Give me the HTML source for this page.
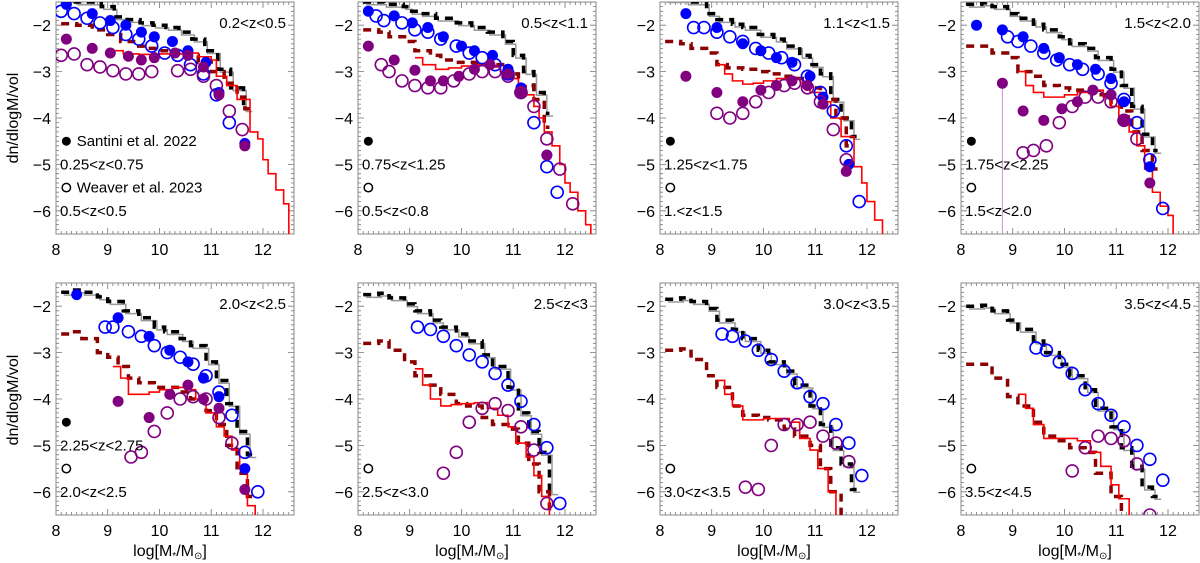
<!DOCTYPE html>
<html><head><meta charset="utf-8">
<style>
body{margin:0;background:#fff;}
svg{display:block;font-family:"Liberation Sans",sans-serif;}
</style></head>
<body>
<svg id="chart" width="1200" height="563" viewBox="0 0 1200 563" xmlns="http://www.w3.org/2000/svg">
<text x="18" y="118" transform="rotate(-90 18 118)" text-anchor="middle" font-size="16">dn/dlogM/vol</text>
<text x="18" y="400" transform="rotate(-90 18 400)" text-anchor="middle" font-size="16">dn/dlogM/vol</text>
</svg>
<script>
const xTicks = [8, 9, 10, 11, 12];
const yTicks = [-2, -3, -4, -5, -6];
const zLabels = ["0.2<z<0.5","0.5<z<1.1","1.1<z<1.5","1.5<z<2.0","2.0<z<2.5","2.5<z<3","3.0<z<3.5","3.5<z<4.5"];
const santiniLabels = ["0.25<z<0.75","0.75<z<1.25","1.25<z<1.75","1.75<z<2.25","2.25<z<2.75",null,null,null];
const weaverLabels = ["0.5<z<0.5","0.5<z<0.8","1.<z<1.5","1.5<z<2.0","2.0<z<2.5","2.5<z<3.0","3.0<z<3.5","3.5<z<4.5"];

const p1_black=[[8.1,-1.45],[8.375,-1.5],[8.625,-1.5],[8.875,-1.6],[9.125,-1.82],[9.375,-1.88],[9.625,-1.95],[9.875,-2.0],[10.125,-2.05],[10.375,-2.15],[10.625,-2.3],[10.875,-2.55],[11.125,-2.95],[11.375,-3.35],[11.625,-3.8]];
const p1_dark=[[8.1,-1.97],[8.4,-2.0],[8.7,-2.1],[9.0,-2.2],[9.25,-2.35],[9.5,-2.45],[9.75,-2.5],[10.0,-2.55],[10.25,-2.6],[10.5,-2.65],[10.75,-2.8],[11.0,-3.0],[11.25,-3.25],[11.5,-3.55],[11.65,-3.8]];
const p1_red=[[9.1,-2.55],[9.3,-2.62],[9.6,-2.63],[10.0,-2.62],[10.5,-2.6],[10.75,-2.68],[11.0,-2.75],[11.1,-3.1],[11.3,-3.3],[11.5,-3.6],[11.75,-4.3],[11.9,-4.45],[12.0,-4.9],[12.1,-5.2],[12.25,-5.55],[12.4,-5.85],[12.5,-6.6]];
const p1_blueF=[[8.2,-1.55],[8.7,-1.75],[9.05,-1.9],[9.35,-2.0],[9.65,-2.15],[9.9,-2.25],[10.25,-2.35],[10.55,-2.55],[10.9,-2.8],[11.15,-3.45],[11.65,-4.55]];
const p1_blueO=[[8.1,-1.7],[8.35,-1.75],[8.6,-1.85],[8.85,-1.95],[9.1,-2.05],[9.35,-2.2],[9.6,-2.3],[9.85,-2.45],[10.1,-2.6],[10.35,-2.65],[10.6,-2.85],[10.85,-3.05],[11.1,-3.5],[11.35,-4.1]];
const p1_purF=[[8.2,-2.3],[8.7,-2.5],[9.05,-2.6],[9.4,-2.67],[9.65,-2.75],[9.9,-2.7],[10.3,-2.6],[10.55,-2.65],[10.85,-2.9],[11.15,-3.5],[11.65,-4.6]];
const p1_purO=[[8.1,-2.65],[8.35,-2.62],[8.6,-2.85],[8.85,-2.9],[9.1,-2.98],[9.35,-3.05],[9.6,-3.05],[9.85,-3.0],[10.35,-2.98],[10.6,-2.95],[10.85,-3.1],[11.1,-3.3],[11.35,-3.85],[11.6,-4.25]];

const p2_black=[[8.1,-1.5],[8.5,-1.55],[8.875,-1.6],[9.0,-1.7],[9.2,-1.75],[9.5,-1.85],[9.9,-1.95],[10.2,-2.05],[10.5,-2.15],[10.8,-2.35],[11.0,-2.65],[11.2,-3.0],[11.4,-3.45],[11.6,-3.9]];
const p2_dark=[[8.1,-2.1],[8.4,-2.15],[8.6,-2.25],[8.9,-2.35],[9.1,-2.55],[9.4,-2.65],[9.6,-2.75],[9.9,-2.8],[10.1,-2.8],[10.4,-2.85],[10.6,-2.85],[10.9,-3.05],[11.1,-3.3],[11.4,-3.6],[11.6,-4.2]];
const p2_red=[[9.1,-2.7],[9.25,-2.85],[9.5,-2.95],[9.75,-2.92],[10.0,-2.88],[10.25,-2.85],[10.5,-2.9],[10.75,-3.0],[11.0,-3.15],[11.1,-3.3],[11.25,-3.5],[11.4,-3.75],[11.5,-4.0],[11.6,-4.3],[11.75,-4.6],[11.9,-5.0],[12.0,-5.4],[12.1,-5.6],[12.25,-6.0],[12.4,-6.3],[12.5,-6.6]];
const p2_blueF=[[8.2,-1.7],[8.7,-1.8],[9.05,-1.95],[9.35,-2.05],[9.65,-2.25],[10.0,-2.45],[10.25,-2.55],[10.6,-2.65],[10.9,-2.95],[11.15,-3.35],[11.65,-4.8]];
const p2_blueO=[[8.35,-1.8],[8.5,-1.9],[8.85,-1.95],[9.1,-2.1],[9.35,-2.15],[9.6,-2.3],[9.9,-2.45],[10.15,-2.6],[10.4,-2.7],[10.65,-2.85],[10.9,-3.05],[11.15,-3.45],[11.4,-4.1],[11.65,-5.05],[11.85,-5.6]];
const p2_purF=[[8.2,-2.45],[8.7,-2.75],[9.1,-2.97],[9.4,-3.2],[9.65,-3.2],[9.95,-3.1],[10.25,-2.95],[10.55,-2.85],[10.9,-3.05],[11.15,-3.45],[11.65,-4.8]];
const p2_purO=[[8.45,-2.85],[8.6,-3.0],[8.85,-3.2],[9.1,-3.3],[9.35,-3.35],[9.6,-3.35],[9.85,-3.2],[10.15,-3.05],[10.4,-3.0],[10.65,-3.0],[10.9,-3.1],[11.15,-3.45],[11.4,-3.75],[11.65,-4.45],[11.9,-5.1],[12.15,-5.85]];

const p3_black=[[8.1,-1.45],[8.5,-1.5],[8.9,-1.75],[9.1,-1.88],[9.4,-1.98],[9.6,-2.05],[9.9,-2.2],[10.2,-2.3],[10.4,-2.45],[10.7,-2.65],[10.9,-2.85],[11.1,-3.05],[11.3,-3.6],[11.5,-4.0],[11.7,-4.4]];
const p3_dark=[[8.1,-2.35],[8.4,-2.4],[8.6,-2.5],[8.9,-2.6],[9.1,-2.85],[9.3,-2.92],[9.6,-2.95],[9.9,-3.0],[10.1,-3.05],[10.4,-3.1],[10.6,-3.15],[10.9,-3.35],[11.1,-3.6],[11.4,-4.0],[11.6,-4.6]];
const p3_red=[[9.1,-2.85],[9.25,-3.05],[9.4,-3.2],[9.6,-3.27],[9.8,-3.25],[10.0,-3.2],[10.25,-3.15],[10.5,-3.15],[10.75,-3.25],[10.9,-3.45],[11.1,-3.65],[11.3,-4.0],[11.5,-4.4],[11.75,-5.05],[11.9,-5.4],[12.0,-5.8],[12.15,-6.2],[12.3,-6.6]];
const p3_blueF=[[8.5,-1.75],[9.1,-2.05],[9.6,-2.4],[9.95,-2.55],[10.25,-2.7],[10.55,-2.8],[10.9,-3.1],[11.15,-3.55],[11.65,-5.0]];
const p3_blueO=[[8.65,-2.05],[8.85,-2.05],[9.1,-2.15],[9.35,-2.25],[9.6,-2.35],[9.85,-2.5],[10.1,-2.6],[10.35,-2.7],[10.6,-2.85],[10.85,-3.1],[11.1,-3.45],[11.35,-3.85],[11.6,-4.6],[11.85,-5.8]];
const p3_purF=[[8.5,-3.1],[9.1,-3.45],[9.6,-3.65],[9.95,-3.4],[10.25,-3.3],[10.55,-3.2],[10.85,-3.3],[11.15,-3.7],[11.6,-5.15]];
const p3_purO=[[9.1,-3.9],[9.35,-4.0],[9.6,-3.9],[9.85,-3.65],[10.1,-3.45],[10.4,-3.3],[10.6,-3.25],[10.85,-3.35],[11.1,-3.65],[11.35,-4.25],[11.6,-4.9]];

const p4_black=[[8.1,-1.55],[8.4,-1.52],[8.6,-1.6],[8.9,-1.75],[9.1,-1.85],[9.4,-1.98],[9.6,-2.1],[9.9,-2.25],[10.1,-2.4],[10.4,-2.5],[10.6,-2.7],[10.9,-2.95],[11.1,-3.3],[11.3,-3.75],[11.5,-4.35],[11.7,-4.7]];
const p4_dark=[[8.1,-2.45],[8.4,-2.45],[8.6,-2.6],[8.9,-2.7],[9.1,-3.0],[9.4,-3.1],[9.6,-3.3],[9.9,-3.35],[10.1,-3.4],[10.4,-3.45],[10.6,-3.5],[10.9,-3.7],[11.1,-3.85],[11.3,-4.3],[11.5,-4.7],[11.7,-5.1]];
const p4_red=[[9.1,-3.0],[9.25,-3.3],[9.4,-3.45],[9.6,-3.55],[9.8,-3.55],[10.0,-3.5],[10.25,-3.45],[10.5,-3.4],[10.75,-3.55],[10.9,-3.75],[11.05,-3.95],[11.25,-4.3],[11.4,-4.6],[11.55,-5.1],[11.7,-5.6],[11.85,-5.9],[12.0,-6.1],[12.1,-6.6]];
const p4_blueF=[[8.3,-2.0],[8.8,-2.1],[9.2,-2.25],[9.6,-2.5],[9.9,-2.7],[10.25,-2.85],[10.6,-2.95],[10.9,-3.15],[11.15,-3.65],[11.65,-5.05]];
const p4_blueO=[[8.9,-2.25],[9.1,-2.35],[9.35,-2.45],[9.6,-2.6],[9.85,-2.75],[10.1,-2.85],[10.35,-2.95],[10.65,-3.05],[10.9,-3.25],[11.15,-3.6],[11.4,-4.1],[11.65,-4.9],[11.9,-5.95]];
const p4_purF=[[8.8,-3.25],[9.2,-3.85],[9.6,-4.05],[9.95,-3.8],[10.25,-3.65],[10.55,-3.4],[10.9,-3.5],[11.15,-4.05],[11.65,-5.4]];
const p4_purO=[[9.2,-4.75],[9.4,-4.7],[9.65,-4.6],[9.9,-4.1],[10.15,-3.75],[10.4,-3.55],[10.65,-3.55],[10.9,-3.65],[11.15,-4.05],[11.4,-4.45]];

const p5_black=[[8.1,-1.7],[8.3,-1.65],[8.5,-1.7],[8.8,-1.8],[9.0,-1.9],[9.3,-2.1],[9.6,-2.25],[9.9,-2.45],[10.1,-2.55],[10.4,-2.7],[10.6,-2.85],[10.9,-3.2],[11.1,-3.6],[11.3,-4.1],[11.5,-4.7],[11.7,-5.2]];
const p5_dark=[[8.1,-2.6],[8.3,-2.55],[8.5,-2.7],[8.8,-3.0],[9.0,-3.1],[9.2,-3.3],[9.4,-3.55],[9.6,-3.65],[9.9,-3.75],[10.1,-3.75],[10.4,-3.85],[10.6,-4.0],[10.9,-4.25],[11.1,-4.55],[11.3,-5.0],[11.5,-5.6],[11.7,-6.1]];
const p5_red=[[9.1,-3.3],[9.25,-3.55],[9.4,-3.9],[9.6,-3.9],[9.8,-3.85],[10.0,-3.8],[10.25,-3.75],[10.5,-3.8],[10.7,-4.0],[10.9,-4.3],[11.1,-4.6],[11.25,-4.8],[11.4,-5.1],[11.55,-5.5],[11.7,-6.3],[11.85,-6.6]];
const p5_blueF=[[8.4,-1.75],[9.2,-2.25],[9.8,-2.65],[10.2,-2.95],[10.55,-3.2],[10.85,-3.55],[11.15,-3.95],[11.65,-5.5]];
const p5_blueO=[[8.95,-2.45],[9.1,-2.45],[9.4,-2.55],[9.65,-2.65],[9.9,-2.85],[10.15,-3.0],[10.4,-3.1],[10.65,-3.25],[10.9,-3.5],[11.15,-3.85],[11.4,-4.35],[11.65,-5.15],[11.9,-6.0]];
const p5_purF=[[9.2,-4.05],[9.8,-4.4],[10.2,-3.9],[10.55,-3.7],[10.85,-4.0],[11.15,-4.2],[11.65,-5.95]];
const p5_purO=[[9.45,-5.25],[9.65,-5.15],[9.9,-4.7],[10.15,-4.3],[10.4,-4.0],[10.65,-3.95],[10.9,-4.0],[11.15,-4.4],[11.4,-4.95]];

const p6_black=[[8.1,-1.75],[8.4,-1.72],[8.6,-1.82],[8.9,-1.95],[9.1,-2.1],[9.4,-2.3],[9.6,-2.45],[9.9,-2.6],[10.1,-2.75],[10.4,-3.05],[10.6,-3.3],[10.9,-3.75],[11.1,-4.3],[11.3,-4.7],[11.5,-5.15],[11.7,-6.0]];
const p6_dark=[[8.1,-2.8],[8.4,-2.75],[8.6,-2.95],[8.9,-3.2],[9.1,-3.5],[9.4,-3.7],[9.6,-3.9],[9.9,-4.1],[10.1,-4.15],[10.4,-4.4],[10.6,-4.55],[10.9,-4.65],[11.1,-4.95],[11.3,-5.4],[11.5,-6.0],[11.7,-6.6]];
const p6_red=[[9.1,-3.35],[9.25,-3.7],[9.4,-4.0],[9.6,-4.15],[9.8,-4.12],[10.0,-4.1],[10.25,-4.08],[10.5,-4.2],[10.7,-4.35],[10.9,-4.6],[11.05,-4.95],[11.25,-5.25],[11.4,-5.65],[11.55,-6.1],[11.7,-6.6]];
const p6_blueF=[];
const p6_blueO=[[9.15,-2.45],[9.4,-2.5],[9.65,-2.65],[9.9,-2.85],[10.15,-3.05],[10.4,-3.2],[10.65,-3.45],[10.9,-3.7],[11.15,-4.05],[11.4,-4.55],[11.65,-5.05],[11.9,-6.25]];
const p6_purF=[];
const p6_purO=[[9.65,-5.6],[9.9,-5.15],[10.15,-4.5],[10.4,-4.2],[10.65,-4.1],[10.9,-4.25],[11.15,-4.6],[11.4,-5.1],[11.65,-6.25]];

const p7_black=[[8.1,-1.85],[8.4,-1.82],[8.6,-1.9],[8.9,-2.05],[9.1,-2.3],[9.4,-2.5],[9.6,-2.7],[9.9,-2.95],[10.1,-3.2],[10.4,-3.4],[10.6,-3.7],[10.9,-4.15],[11.1,-4.55],[11.3,-5.05],[11.5,-5.4],[11.7,-5.95]];
const p7_dark=[[8.1,-2.95],[8.4,-2.92],[8.6,-3.15],[8.9,-3.5],[9.1,-3.75],[9.4,-4.15],[9.6,-4.35],[9.9,-4.4],[10.1,-4.45],[10.4,-4.65],[10.6,-4.8],[10.9,-5.0],[11.1,-5.5],[11.3,-6.0],[11.5,-6.6]];
const p7_red=[[9.1,-3.6],[9.25,-3.9],[9.4,-4.15],[9.6,-4.45],[9.8,-4.45],[10.0,-4.42],[10.25,-4.42],[10.5,-4.5],[10.7,-4.85],[10.9,-5.1],[11.05,-5.5],[11.25,-6.0],[11.4,-6.6]];
const p7_blueF=[];
const p7_blueO=[[9.2,-2.6],[9.4,-2.65],[9.65,-2.75],[9.9,-2.95],[10.15,-3.15],[10.4,-3.4],[10.65,-3.65],[10.9,-3.95],[11.15,-4.1],[11.4,-4.55],[11.65,-4.95],[11.9,-5.65]];
const p7_purF=[];
const p7_purO=[[9.65,-5.9],[9.9,-5.95],[10.15,-5.0],[10.4,-4.55],[10.65,-4.55],[10.9,-4.5],[11.15,-4.8],[11.4,-4.95],[11.65,-5.35]];

const p8_black=[[8.1,-2.0],[8.4,-1.98],[8.6,-2.1],[8.9,-2.3],[9.1,-2.5],[9.4,-2.75],[9.6,-3.0],[9.9,-3.25],[10.1,-3.5],[10.4,-3.8],[10.6,-4.2],[10.9,-4.6],[11.1,-5.05],[11.3,-5.45],[11.5,-5.9],[11.7,-6.1]];
const p8_dark=[[8.1,-3.25],[8.4,-3.25],[8.6,-3.55],[8.9,-3.95],[9.1,-4.15],[9.4,-4.5],[9.6,-4.8],[9.9,-4.9],[10.1,-5.05],[10.4,-5.15],[10.6,-5.6],[10.9,-6.1],[11.1,-6.6]];
const p8_red=[[9.1,-3.9],[9.25,-4.2],[9.4,-4.55],[9.6,-4.85],[9.8,-4.85],[10.0,-4.85],[10.25,-4.9],[10.5,-5.15],[10.7,-5.45],[10.9,-5.85],[11.05,-6.15],[11.25,-6.6]];
const p8_blueF=[];
const p8_blueO=[[9.45,-2.9],[9.65,-2.95],[9.9,-3.2],[10.15,-3.45],[10.4,-3.8],[10.65,-4.1],[10.9,-4.35],[11.15,-4.6],[11.4,-5.0],[11.65,-5.3],[11.9,-5.75]];
const p8_purF=[];
const p8_purO=[[10.15,-5.55],[10.4,-5.05],[10.65,-4.8],[10.9,-4.85],[11.15,-4.9],[11.4,-5.4],[11.65,-6.5]];

const panels=[
 [p1_black,p1_dark,p1_red,p1_blueF,p1_blueO,p1_purF,p1_purO],
 [p2_black,p2_dark,p2_red,p2_blueF,p2_blueO,p2_purF,p2_purO],
 [p3_black,p3_dark,p3_red,p3_blueF,p3_blueO,p3_purF,p3_purO],
 [p4_black,p4_dark,p4_red,p4_blueF,p4_blueO,p4_purF,p4_purO],
 [p5_black,p5_dark,p5_red,p5_blueF,p5_blueO,p5_purF,p5_purO],
 [p6_black,p6_dark,p6_red,p6_blueF,p6_blueO,p6_purF,p6_purO],
 [p7_black,p7_dark,p7_red,p7_blueF,p7_blueO,p7_purF,p7_purO],
 [p8_black,p8_dark,p8_red,p8_blueF,p8_blueO,p8_purF,p8_purO]
];

const NS="http://www.w3.org/2000/svg";
const svg=document.getElementById('chart');
const lefts=[56,358,660,961], tops=[2,283], W=238, H=232;
const XMIN=8, XMAX=12.6, YMIN=-6.5, YMAX=-1.5;
function mk(tag,attrs,parent){const e=document.createElementNS(NS,tag);for(const k in attrs)e.setAttribute(k,attrs[k]);(parent||svg).appendChild(e);return e;}
function stepPath(pts,sx,sy,ext){let d='';for(let i=0;i<pts.length;i++){const x=sx(pts[i][0]),y=sy(pts[i][1]);const xn=i<pts.length-1?sx(pts[i+1][0]):sx(pts[i][0]+ext);if(i===0)d+='M'+x+','+y;else d+='V'+y;d+='H'+xn;}return d;}

panels.forEach((p,i)=>{
  const L=lefts[i%4], T=tops[Math.floor(i/4)];
  const sx=v=>L+(v-XMIN)/(XMAX-XMIN)*W;
  const sy=v=>T+(YMAX-v)/(YMAX-YMIN)*H;
  const g=mk('g',{});
  
  
  const cp=mk('clipPath',{id:'clip'+i},g);
  mk('rect',{x:L,y:T,width:W,height:H},cp);
  let d='';
  for(let v=8;v<=12.6001;v+=0.1){const x=sx(v).toFixed(1);const big=Math.abs(v-Math.round(v))<0.01;const len=big?6:3;d+=`M${x},${T+H}v${-len}M${x},${T}v${len}`;}
  for(let v=-6.5;v<=-1.4999;v+=0.1){const y=sy(v).toFixed(1);const big=Math.abs(v-Math.round(v))<0.01;const len=big?6:3;d+=`M${L},${y}h${len}M${L+W},${y}h${-len}`;}
  const tk=mk('path',{d:d,stroke:'#777','stroke-width':0.8,fill:'none'},g);
  
  
  const fr=mk('rect',{x:L,y:T,width:W,height:H,fill:'none',stroke:'#888','stroke-width':1},g);
  
  
  xTicks.forEach(v=>{const t=mk('text',{x:sx(v),y:T+H+21,'text-anchor':'middle','font-size':16},g);t.textContent=v;
    
    });
  yTicks.forEach(v=>{const t=mk('text',{x:L-5,y:sy(v)+6,'text-anchor':'end','font-size':16},g);t.textContent='\u2212'+Math.abs(v);
    
    });
  const c=mk('g',{'clip-path':`url(#clip${i})`},g);
  const gray=p[0].map(q=>[q[0]+0.05,q[1]-0.06]);
  const gl=mk('path',{d:stepPath(gray,sx,sy,0.12),stroke:'#999','stroke-width':1.5,fill:'none'},c);
  
  
  const bl=mk('path',{d:stepPath(p[0],sx,sy,0.1),stroke:'#000','stroke-width':3.5,fill:'none','stroke-dasharray':'8,6'},c);
  
  
  const dl=mk('path',{d:stepPath(p[1],sx,sy,0.1),stroke:'#8b0000','stroke-width':3.5,fill:'none','stroke-dasharray':'8,6'},c);
  
  
  const rl=mk('path',{d:stepPath(p[2],sx,sy,0.15),stroke:'#ff0000','stroke-width':1.6,fill:'none'},c);
  
  
  if(i===3){const e=mk('line',{x1:sx(8.8),y1:sy(-3.25),x2:sx(8.8),y2:T+H,stroke:'#d090d0','stroke-width':1},c);
    
    }
  const specs=[[p[3],'#0000ff',true,'blue-filled-point'],[p[4],'#0000ff',false,'blue-open-point'],[p[5],'#800080',true,'purple-filled-point'],[p[6],'#800080',false,'purple-open-point']];
  specs.forEach(s=>{s[0].forEach(q=>{
    const e=mk('circle',{cx:sx(q[0]),cy:sy(q[1]),r:s[2]?5.5:6,fill:s[2]?s[1]:'none',stroke:s[1],'stroke-width':s[2]?0:1.6},c);
    
    
  });});
  const zl=mk('text',{x:L+W-8,y:sy(-1.95)+5,'text-anchor':'end','font-size':15},g);zl.textContent=zLabels[i];
  
  
  if(santiniLabels[i]){
    const d1=mk('circle',{cx:sx(8.2),cy:sy(-4.5),r:4.5,fill:'#000'},g);
    
    
    if(i===0){const t=mk('text',{x:sx(8.4),y:sy(-4.5)+5,'font-size':15},g);t.textContent='Santini et al. 2022';
      
      }
    const t2=mk('text',{x:L+4,y:sy(-5.0)+5,'font-size':15},g);t2.textContent=santiniLabels[i];
    
    
  }
  const d2=mk('circle',{cx:sx(8.2),cy:sy(-5.5),r:4.2,fill:'none',stroke:'#000','stroke-width':1.5},g);
  
  
  if(i===0){const t=mk('text',{x:sx(8.4),y:sy(-5.5)+5,'font-size':15},g);t.textContent='Weaver et al. 2023';
    
    }
  const t3=mk('text',{x:L+4,y:sy(-6.0)+5,'font-size':15},g);t3.textContent=weaverLabels[i];
  
  
  if(i>=4){const xt=mk('text',{x:L+W/2-5,y:556,'text-anchor':'middle','font-size':16},g);
    xt.innerHTML='log[M<tspan font-size="10" dy="3">*</tspan><tspan dy="-3">/M</tspan><tspan font-size="10" dy="3">\u2299</tspan><tspan dy="-3">]</tspan>';
    
    }
});
</script>
</body></html>
